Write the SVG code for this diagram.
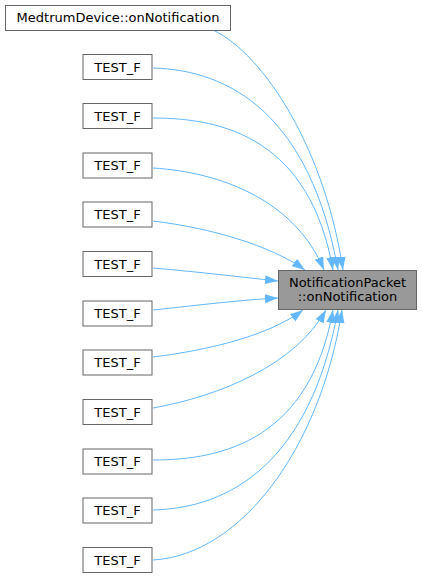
<svg xmlns="http://www.w3.org/2000/svg" width="423" height="579" viewBox="0 0 423 579">
<style>
.n rect{fill:#fff;stroke:#666;stroke-width:1}
.t rect{fill:#999;stroke:#666;stroke-width:1}
text{font-family:"DejaVu Sans","Liberation Sans",sans-serif;font-size:13px;fill:#000;text-anchor:middle}
.e path{fill:none;stroke:#63b8ff;stroke-width:1;marker-end:url(#ah)}
</style>
<defs>
<marker id="ah" markerUnits="userSpaceOnUse" markerWidth="14" markerHeight="10" refX="13" refY="4.5" orient="auto">
<path d="M0,0 L13,4.5 L0,9 z" fill="#63b8ff"/>
</marker>
</defs>
<g id="edges" class="e">
<path d="M213,30 C265,55 325,150 343,270"/>
<path d="M153,68 C230,70 310,115 338,270"/>
<path d="M153,118 C225,118 310,140 333,270"/>
<path d="M153,168 C220,172 295,200 324,270"/>
<path d="M153,221 C210,228 270,245 305,270"/>
<path d="M153,268 C200,272 240,277 278,281"/>
<path d="M153,310 C200,305 240,300 278,298"/>
<path d="M153,357 C210,350 270,335 303,310"/>
<path d="M153,408 C220,396 295,365 326,310"/>
<path d="M153,460 C225,460 310,438 333,310"/>
<path d="M153,510 C230,508 310,463 338,310"/>
<path d="M153,560 C240,555 320,450 342,310"/>
</g>
<g id="target" class="t"><rect x="278.5" y="270.5" width="138" height="39"/><text x="347.5" y="287">NotificationPacket</text><text x="347.5" y="301">::onNotification</text></g>
<g id="medtrum" class="n"><rect x="5.5" y="5.5" width="225" height="25"/><text x="118" y="22">MedtrumDevice::onNotification</text></g>
<g id="t1" class="n"><rect x="83" y="54.5" width="69" height="25"/><text x="117.5" y="71.5">TEST_F</text></g>
<g id="t2" class="n"><rect x="83" y="103.5" width="69" height="25"/><text x="117.5" y="120.5">TEST_F</text></g>
<g id="t3" class="n"><rect x="83" y="153" width="69" height="25"/><text x="117.5" y="170">TEST_F</text></g>
<g id="t4" class="n"><rect x="83" y="202" width="69" height="25"/><text x="117.5" y="219">TEST_F</text></g>
<g id="t5" class="n"><rect x="83" y="251.5" width="69" height="25"/><text x="117.5" y="268.5">TEST_F</text></g>
<g id="t6" class="n"><rect x="83" y="301" width="69" height="25"/><text x="117.5" y="318">TEST_F</text></g>
<g id="t7" class="n"><rect x="83" y="350" width="69" height="25"/><text x="117.5" y="367">TEST_F</text></g>
<g id="t8" class="n"><rect x="83" y="399.5" width="69" height="25"/><text x="117.5" y="416.5">TEST_F</text></g>
<g id="t9" class="n"><rect x="83" y="449" width="69" height="25"/><text x="117.5" y="466">TEST_F</text></g>
<g id="t10" class="n"><rect x="83" y="498" width="69" height="25"/><text x="117.5" y="515">TEST_F</text></g>
<g id="t11" class="n"><rect x="83" y="547.5" width="69" height="25"/><text x="117.5" y="564.5">TEST_F</text></g>
</svg>
